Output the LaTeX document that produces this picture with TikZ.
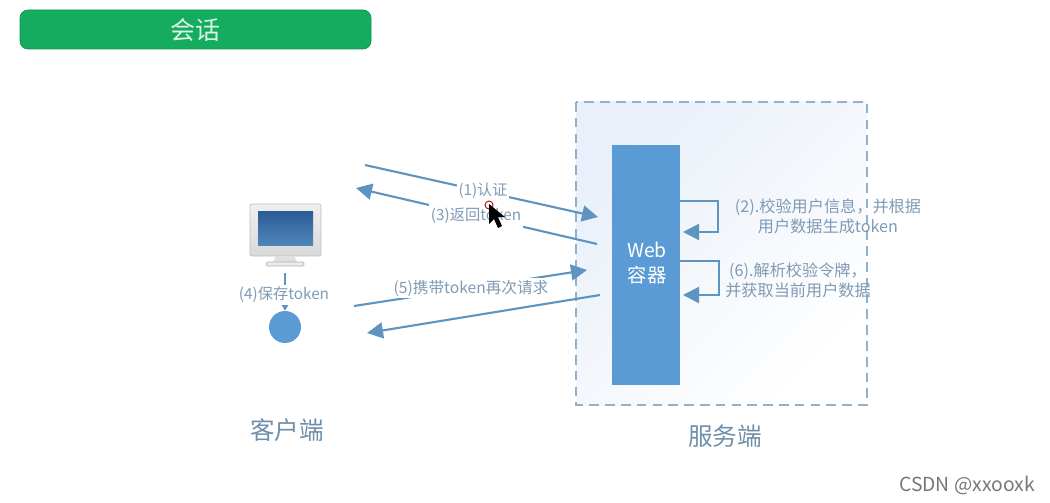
\documentclass[tikz,border=0pt]{standalone}
\usepackage{fontspec}
\setmainfont{Noto Sans CJK SC}
\usetikzlibrary{arrows.meta,calc,positioning}
\definecolor{titlec}{HTML}{14AC5F}
\definecolor{titlet}{HTML}{DDF5E6}
\definecolor{boxc}{HTML}{8FB2D0}
\definecolor{soft}{HTML}{E9F0F9}
\definecolor{webc}{HTML}{5B9BD5}
\definecolor{flow}{HTML}{5F93C0}
\definecolor{lbl}{HTML}{7F9BB5}
\definecolor{caption}{HTML}{6F8FAB}
\definecolor{wmark}{HTML}{777777}
\definecolor{screena}{HTML}{2A5C96}
\definecolor{screenb}{HTML}{4F86B8}
\tikzset{
  titlebox/.style={draw=titlec!85!black,fill=titlec,rounded corners=1.6mm,line width=.4pt},
  flowline/.style={flow,line width=1.2pt,-{Triangle[length=3.2mm,width=3.2mm]}},
  flowlbl/.style={text=lbl,fill=white,inner xsep=1pt,inner ysep=2.5pt,align=center},
  sidelbl/.style={text=lbl,font=\fontsize{9.2}{11.4}\selectfont,inner sep=0pt,align=center},
  caplbl/.style={text=caption,font=\fontsize{14}{16}\selectfont,inner sep=0pt},
}
\begin{document}
\begin{tikzpicture}[x=0.02cm,y=-0.02cm]
  \useasboundingbox (0,0) rectangle (1050,503);
  % ---------- title ----------
  \draw[titlebox] (20,10) rectangle (371,49);
  \node[text=titlet,font=\fontsize{14.2}{16}\selectfont,inner sep=0pt] (title) at (195,30) {会话};
  % ---------- server side ----------
  \shade[left color=soft,right color=white,shading angle=45] (576,102) rectangle (867,405);
  \draw[boxc,line width=1.1pt,dash pattern=on 5.5pt off 3.5pt] (576,102) rectangle (867,405);
  \node[fill=webc,minimum width=1.36cm,minimum height=4.8cm,inner sep=0pt,anchor=north west] (web) at (612,145) {};
  \node[text=white,font=\fontsize{11}{14}\selectfont,align=center,inner sep=0pt] (webt) at (647,263) {Web\\容器};
  \node[caplbl] (server) at (725,436) {服务端};
  % ---------- client side ----------
  \draw[rounded corners=0.4mm,draw=black!25,top color=black!6,bottom color=black!15] (250,204) rectangle (321,256);
  \shade[top color=screena,bottom color=screenb] (258,211) rectangle (313,245);
  \fill[black!12] (276,256) -- (294,256) -- (297,262) -- (273,262) -- cycle;
  \draw[black!30,fill=black!8,rounded corners=0.3mm] (266,262) rectangle (304,266);
  \node[circle,fill=webc,minimum size=0.64cm,inner sep=0pt] (store) at (285,327) {};
  \coordinate (pc) at (285,273);
  \draw[flowline,-{Triangle[length=2.4mm,width=2.8mm]}] (pc) -- (store);
  \node[flowlbl,font=\fontsize{8.7}{10}\selectfont,inner ysep=1pt] (save) at (284,295) {(4)保存token};
  \node[caplbl] (client) at (287,430) {客户端};
  % ---------- requests ----------
  \coordinate (a1) at (365,165);
  \coordinate (b1) at (598,217);
  \coordinate (a3) at (597,244);
  \coordinate (b3) at (356,188);
  \coordinate (a5) at (354,306);
  \coordinate (b5) at (587,270);
  \coordinate (a7) at (600,295);
  \coordinate (b7) at (367,333);
  \draw[flowline] (a1) -- (b1);
  \draw[flowline] (a3) -- (b3);
  \draw[flowline] (a5) -- (b5);
  \draw[flowline] (a7) -- (b7);
  \node[flowlbl,font=\fontsize{8.6}{10}\selectfont] (auth) at (483,191) {(1)认证};
  \node[flowlbl,font=\fontsize{8.7}{10}\selectfont] (back) at (476,216) {(3)返回token};
  \node[flowlbl,font=\fontsize{8.9}{10}\selectfont,inner ysep=1pt] (again) at (471,288) {(5)携带token再次请求};
  % ---------- self loops ----------
  \coordinate (c2) at (680,201);
  \coordinate (d2) at (683,232);
  \coordinate (c6) at (680,261);
  \coordinate (d6) at (683,295);
  \draw[flowline] (c2) -- (718,201) -- (718,232) -- (d2);
  \draw[flowline] (c6) -- (719,261) -- (719,295) -- (d6);
  \node[sidelbl] (check) at (828,216) {(2).校验用户信息，并根据\\用户数据生成token};
  \node[sidelbl] (parse) at (798,280) {(6).解析校验令牌，\\并获取当前用户数据};
  % ---------- pointer ----------
  \draw[red!70!black,line width=.5pt] (489,205) circle (4);
  \fill[black] (489,204) -- (489,224) -- (494,219) -- (498,228) -- (502,226) -- (498,217) -- (505,217) -- cycle;
  % ---------- watermark ----------
  \node[text=wmark,font=\fontsize{11}{13}\selectfont,inner sep=0pt] (mark) at (967,485) {CSDN @xxooxk};
\end{tikzpicture}
\end{document}
